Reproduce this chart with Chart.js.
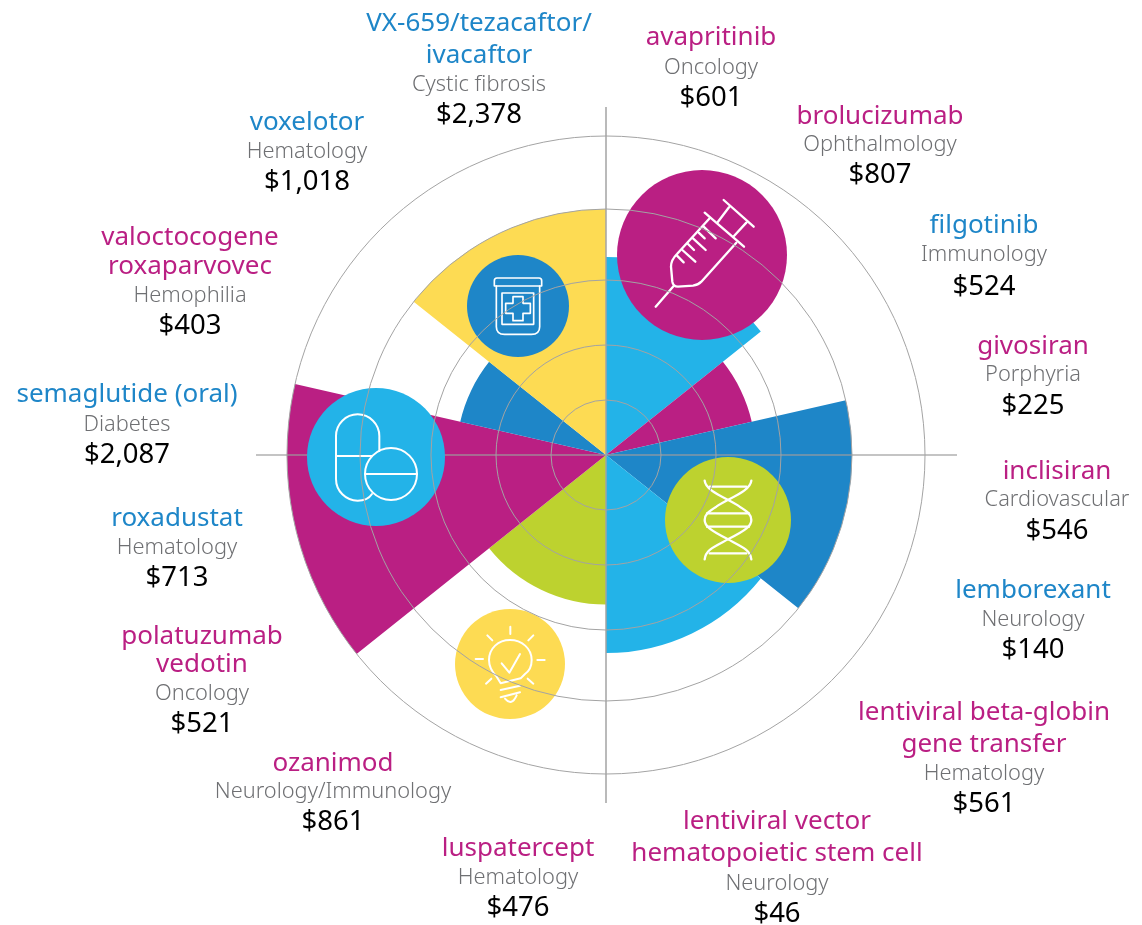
<!DOCTYPE html>
<html>
<head>
<meta charset="utf-8">
<title>Drug sales forecast</title>
<script src="https://cdn.jsdelivr.net/npm/chart.js@4/dist/chart.umd.min.js"></script>
<style>
    html, body { margin: 0; padding: 0; background: #fff; }
    canvas { display: block; }
</style>
</head>
<body>
<canvas id="wheel" width="1142" height="925"></canvas>
<script>
'use strict';

// wedge radii, clockwise from 12 o'clock
const wedgeValues = [198, 149.5, 246, 198, 149.5, 319, 149.5, 246];
const wedgeSpans = [51.43, 25.71, 51.43, 51.43, 51.43, 51.43, 25.71, 51.43];
const ringValues = [0, 55, 110, 175, 246, 319];

const MAGENTA = '#ba1f83', BLUE = '#1e86c8', SKY = '#23b3e8', YELLOW = '#fddb53', GREEN = '#bdd22f';
const wedgeColors = [SKY, MAGENTA, BLUE, SKY, GREEN, MAGENTA, BLUE, YELLOW];

const drugNames = [
    ['avapritinib'], ['brolucizumab'], ['filgotinib'], ['givosiran'], ['inclisiran'], ['lemborexant'],
    ['lentiviral beta-globin', 'gene transfer'], ['lentiviral vector', 'hematopoietic stem cell'],
    ['luspatercept'], ['ozanimod'], ['polatuzumab', 'vedotin'], ['roxadustat'], ['semaglutide (oral)'],
    ['valoctocogene', 'roxaparvovec'], ['voxelotor'], ['VX-659/tezacaftor/', 'ivacaftor']
];
const indications = [
    'Oncology', 'Ophthalmology', 'Immunology', 'Porphyria', 'Cardiovascular', 'Neurology',
    'Hematology', 'Neurology', 'Hematology', 'Neurology/Immunology', 'Oncology', 'Hematology',
    'Diabetes', 'Hemophilia', 'Hematology', 'Cystic fibrosis'
];
const prices = [
    '$601', '$807', '$524', '$225', '$546', '$140', '$561', '$46',
    '$476', '$861', '$521', '$713', '$2,087', '$403', '$1,018', '$2,378'
];
const nameColors = [
    MAGENTA, MAGENTA, BLUE, MAGENTA, MAGENTA, BLUE, MAGENTA, MAGENTA,
    MAGENTA, MAGENTA, MAGENTA, BLUE, BLUE, MAGENTA, BLUE, BLUE
];

// text block placement
const labelX = [711, 880, 984, 1033, 1057, 1033, 984, 777, 518, 333, 202, 177, 127, 190, 307, 479];
const nameY = [38, 117, 226, 347, 472, 591, 713, 822, 849, 764, 637, 519, 395, 238, 123, 24];
const secondLineY = { 6: 745, 7: 854, 10: 665, 13: 267, 15: 56 };
const subY = [68, 145, 255, 375, 500, 620, 774, 884, 878, 792, 694, 548, 425, 296, 152, 85];
const priceY = [98, 175, 287, 406, 531, 650, 804, 914, 908, 822, 724, 578, 455, 326, 182, 115];

const NAME_FONT = '26px "Noto Sans"';
const SUB_FONT = '300 21.8px "Noto Sans"';
const PRICE_FONT = '27.5px "Noto Sans"';

const crossLines = {
    id: 'crossLines',
    afterDatasetsDraw(chart) {
        const r = chart.scales.r, c = chart.ctx;
        c.save();
        c.strokeStyle = 'rgba(157, 157, 157, 0.6)';
        c.lineWidth = 2;
        c.beginPath();
        c.moveTo(r.xCenter - 350, r.yCenter);
        c.lineTo(r.xCenter + 351, r.yCenter);
        c.stroke();
        c.strokeStyle = '#a3a3a3';
        c.lineWidth = 1.5;
        c.beginPath();
        c.moveTo(r.xCenter, r.yCenter - 348);
        c.lineTo(r.xCenter, r.yCenter + 348);
        c.stroke();
        c.restore();
    }
};

function iconAt(c, cx, cy, rad, fill, draw) {
    c.save();
    c.fillStyle = fill;
    c.beginPath();
    c.arc(cx, cy, rad, 0, Math.PI * 2);
    c.fill();
    c.translate(cx, cy);
    c.scale(1 / 3, 1 / 3);
    c.strokeStyle = '#fff';
    c.lineWidth = 6;
    c.lineCap = 'round';
    c.lineJoin = 'round';
    draw(c);
    c.restore();
}

function strokePath(c, d) { c.stroke(new Path2D(d)); }

function syringe(c) {
    c.translate(-307, -465);
    c.lineWidth = 7;
    strokePath(c, 'M372,300 L462,380 M388,322 L355,365 M440,368 L403,408 M315,338 L433,440');
    strokePath(c, 'M330,355 L232,462 Q214,480 214,500 L218,545 Q220,560 235,560 L280,557 Q295,555 305,545 L410,428');
    strokePath(c, 'M222,558 L168,620');
    strokePath(c, 'M232,467 L252,487 M248,450 L287,485 M265,432 L283,450 M280,415 L318,450 M297,398 L315,415 M312,380 L348,415');
}

function jar(c) {
    c.translate(-805, -618);
    c.lineWidth = 5;
    strokePath(c, 'M742,534 L868,534 Q876,534 876,542 L876,558 L734,558 L734,542 Q734,534 742,534 Z');
    strokePath(c, 'M740,558 L740,680 Q740,703 765,703 L845,703 Q870,703 870,680 L870,558');
    strokePath(c, 'M757,579 L852,579 L852,673 L757,673 Z');
    strokePath(c, 'M790,590 L820,590 L820,610 L842,610 L842,640 L820,640 L820,662 L790,662 L790,640 L768,640 L768,610 L790,610 Z');
}

function pills(c) {
    // zoomed coordinates relative to the circle centre at (376,457)
    strokePath(c, 'M-120,-63 L-120,66 A65,65 0 0 0 -55,131 Q-25,131 -12,111');
    strokePath(c, 'M-120,-63 A65,65 0 0 1 10,-63 L10,-18');
    strokePath(c, 'M-120,-3 L-12,-3');
    c.beginPath();
    c.arc(45, 51, 78, 0, Math.PI * 2);
    c.stroke();
    strokePath(c, 'M-33,51 L123,51');
}

function dna(c) {
    c.translate(-385, -210);
    c.lineWidth = 7;
    const strand = 'M315,92 C318,125 385,145 420,170 C445,185 455,195 455,210 C455,228 440,240 385,268 C340,292 318,300 315,328';
    strokePath(c, strand);
    c.save();
    c.translate(770, 0);
    c.scale(-1, 1);
    strokePath(c, strand);
    c.restore();
    strokePath(c, 'M330,110 L440,110 M322,190 L448,190 M322,230 L448,230 M330,310 L440,310');
}

function bulb(c) {
    c.translate(-780, -642);
    strokePath(c, 'M752,700 L740,680 C730,670 717,655 717,630 C717,595 745,570 780,570 C815,570 845,595 845,630 C845,650 835,665 825,672 L812,685 Z');
    strokePath(c, 'M781,530 L781,552 M712,556 L727,571 M850,556 L835,571 M677,627 L699,627 M862,630 L884,630 M708,701 L724,686 M850,701 L833,686');
    strokePath(c, 'M752,720 L810,707 M752,742 L810,727 M765,746 Q785,770 800,736');
    strokePath(c, 'M755,640 L778,668 L810,612');
}

const icons = {
    id: 'icons',
    afterDatasetsDraw(chart) {
        const c = chart.ctx;
        iconAt(c, 702, 255, 85, MAGENTA, syringe);
        iconAt(c, 518, 306, 51, BLUE, jar);
        iconAt(c, 376, 457, 69, SKY, pills);
        iconAt(c, 728, 520, 63, GREEN, dna);
        iconAt(c, 510, 664, 55, YELLOW, bulb);
    }
};

const textBlocks = {
    id: 'textBlocks',
    afterDraw(chart) {
        const c = chart.ctx;
        c.save();
        c.textAlign = 'center';
        c.textBaseline = 'middle';
        drugNames.forEach(function (lines, i) {
            c.font = NAME_FONT;
            c.fillStyle = nameColors[i];
            c.fillText(lines[0], labelX[i], nameY[i]);
            if (lines[1]) c.fillText(lines[1], labelX[i], secondLineY[i]);
            c.font = SUB_FONT;
            c.fillStyle = '#6f7073';
            c.fillText(indications[i], labelX[i], subY[i]);
            c.font = PRICE_FONT;
            c.fillStyle = '#000';
            c.fillText(prices[i], labelX[i], priceY[i]);
        });
        c.restore();
    }
};

new Chart(document.getElementById('wheel'), {
    type: 'polarArea',
    data: {
        labels: wedgeValues.map(function (v, i) { return 'wedge ' + (i + 1); }),
        datasets: [{
            data: wedgeValues,
            backgroundColor: wedgeColors,
            borderWidth: 0,
            angle: function (ctx) { return wedgeSpans[ctx.dataIndex]; }
        }]
    },
    options: {
        responsive: false,
        animation: false,
        layout: { padding: { left: 287, right: 217, top: 136, bottom: 151 } },
        plugins: { legend: { display: false }, tooltip: { enabled: false } },
        scales: {
            r: {
                min: 0,
                max: 319,
                ticks: { display: false },
                afterBuildTicks: function (scale) {
                    scale.ticks = ringValues.map(function (v) { return { value: v }; });
                },
                grid: { circular: true, color: '#a3a3a3', lineWidth: 1, z: 1 }
            }
        }
    },
    plugins: [crossLines, icons, textBlocks]
});
</script>
</body>
</html>
